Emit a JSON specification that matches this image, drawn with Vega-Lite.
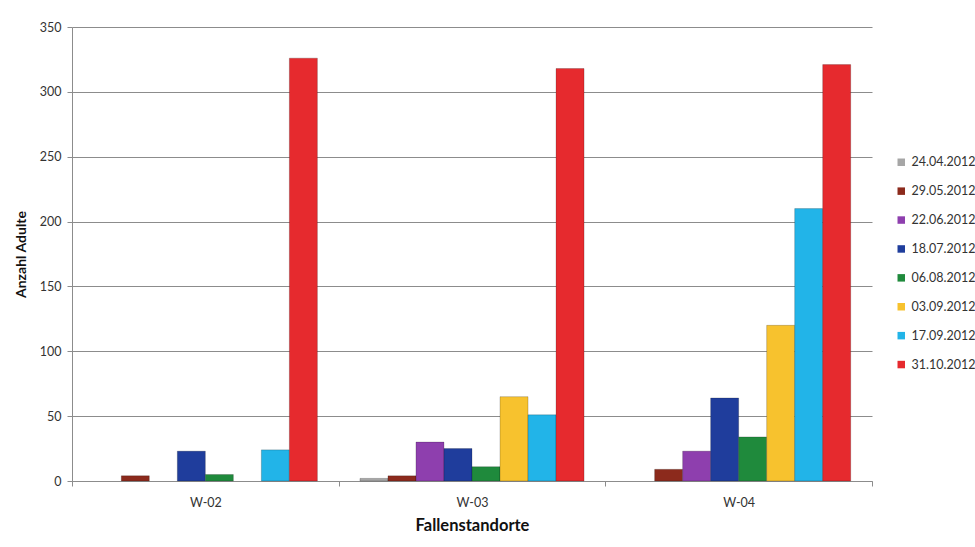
{
  "$schema": "https://vega.github.io/schema/vega-lite/v6.json",
  "width": 800,
  "height": 454,
  "autosize": {"type": "none"},
  "padding": {"left": 72, "top": 27, "right": 103, "bottom": 66},
  "background": "white",
  "config": {
    "font": "Lato",
    "view": {"stroke": null},
    "axis": {"labelFont": "Lato", "titleFont": "Lato"}
  },
  "data": {
    "values": [
      {"Standort": "W-02", "Datum": "24.04.2012", "Anzahl": 0},
      {"Standort": "W-02", "Datum": "29.05.2012", "Anzahl": 4},
      {"Standort": "W-02", "Datum": "22.06.2012", "Anzahl": 0},
      {"Standort": "W-02", "Datum": "18.07.2012", "Anzahl": 23},
      {"Standort": "W-02", "Datum": "06.08.2012", "Anzahl": 5},
      {"Standort": "W-02", "Datum": "03.09.2012", "Anzahl": 0},
      {"Standort": "W-02", "Datum": "17.09.2012", "Anzahl": 24},
      {"Standort": "W-02", "Datum": "31.10.2012", "Anzahl": 326},
      {"Standort": "W-03", "Datum": "24.04.2012", "Anzahl": 2},
      {"Standort": "W-03", "Datum": "29.05.2012", "Anzahl": 4},
      {"Standort": "W-03", "Datum": "22.06.2012", "Anzahl": 30},
      {"Standort": "W-03", "Datum": "18.07.2012", "Anzahl": 25},
      {"Standort": "W-03", "Datum": "06.08.2012", "Anzahl": 11},
      {"Standort": "W-03", "Datum": "03.09.2012", "Anzahl": 65},
      {"Standort": "W-03", "Datum": "17.09.2012", "Anzahl": 51},
      {"Standort": "W-03", "Datum": "31.10.2012", "Anzahl": 318},
      {"Standort": "W-04", "Datum": "24.04.2012", "Anzahl": 0},
      {"Standort": "W-04", "Datum": "29.05.2012", "Anzahl": 9},
      {"Standort": "W-04", "Datum": "22.06.2012", "Anzahl": 23},
      {"Standort": "W-04", "Datum": "18.07.2012", "Anzahl": 64},
      {"Standort": "W-04", "Datum": "06.08.2012", "Anzahl": 34},
      {"Standort": "W-04", "Datum": "03.09.2012", "Anzahl": 120},
      {"Standort": "W-04", "Datum": "17.09.2012", "Anzahl": 210},
      {"Standort": "W-04", "Datum": "31.10.2012", "Anzahl": 321}
    ]
  },
  "transform": [{"filter": "datum.Anzahl > 0"}],
  "mark": {"type": "bar", "stroke": "#000000", "strokeOpacity": 0.25, "strokeWidth": 0.8},
  "encoding": {
    "x": {
      "field": "Standort",
      "type": "nominal",
      "title": "Fallenstandorte",
      "scale": {"paddingInner": 0, "paddingOuter": 0},
      "axis": {
        "labelAngle": 0,
        "tickBand": "extent",
        "tickSize": 5,
        "tickColor": "#8c8c8c",
        "domainColor": "#8c8c8c",
        "labelFontSize": 12.5,
        "labelColor": "#333333",
        "labelPadding": 10,
        "titleFontSize": 16.5,
        "titleFontWeight": "bold",
        "titleColor": "#111111",
        "titlePadding": 9,
        "grid": false
      }
    },
    "xOffset": {
      "field": "Datum",
      "type": "nominal",
      "sort": ["24.04.2012", "29.05.2012", "22.06.2012", "18.07.2012", "06.08.2012", "03.09.2012", "17.09.2012", "31.10.2012"],
      "scale": {"paddingInner": 0, "paddingOuter": 0.76}
    },
    "y": {
      "field": "Anzahl",
      "type": "quantitative",
      "title": "Anzahl Adulte",
      "scale": {"domain": [0, 350], "nice": false},
      "axis": {
        "values": [0, 50, 100, 150, 200, 250, 300, 350],
        "grid": true,
        "gridColor": "#8c8c8c",
        "gridWidth": 1,
        "tickSize": 5,
        "tickColor": "#8c8c8c",
        "domainColor": "#8c8c8c",
        "labelFontSize": 12.5,
        "labelColor": "#333333",
        "labelPadding": 6,
        "titleFontSize": 14,
        "titleFontWeight": "bold",
        "titleColor": "#111111",
        "titlePadding": 11
      }
    },
    "color": {
      "field": "Datum",
      "type": "nominal",
      "scale": {
        "domain": ["24.04.2012", "29.05.2012", "22.06.2012", "18.07.2012", "06.08.2012", "03.09.2012", "17.09.2012", "31.10.2012"],
        "range": ["#a6a6a6", "#8c2a1c", "#8e3fae", "#1f3d9c", "#1f8a3c", "#f7c22e", "#22b4e8", "#e62a2e"]
      },
      "legend": {
        "title": null,
        "orient": "none",
        "legendX": 823,
        "legendY": 129,
        "padding": 0,
        "symbolType": "square",
        "symbolSize": 56,
        "symbolStrokeWidth": 0,
        "labelFontSize": 12.5,
        "labelColor": "#333333",
        "labelOffset": 4,
        "rowPadding": 15.9
      }
    }
  }
}
